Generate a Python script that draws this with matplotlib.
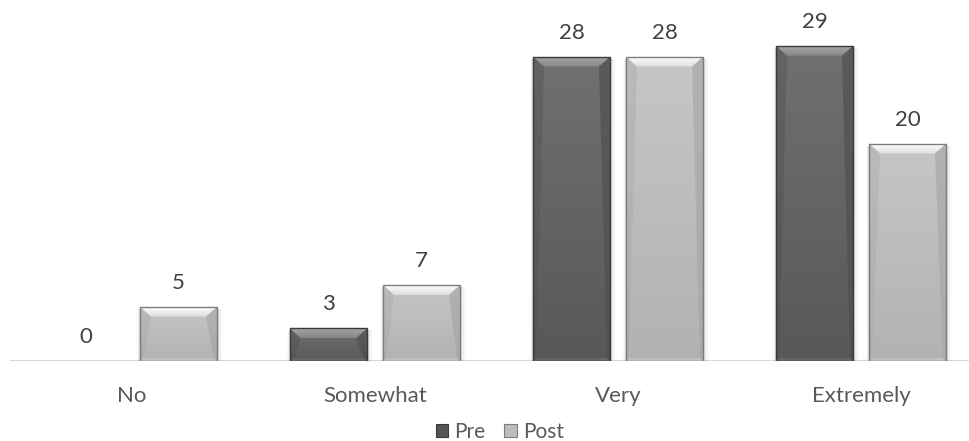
import numpy as np
import matplotlib
matplotlib.use("Agg")
import matplotlib.pyplot as plt
from matplotlib.patches import Polygon, Rectangle
from matplotlib.colors import LinearSegmentedColormap

categories = ["No", "Somewhat", "Very", "Extremely"]
pre_values = [0, 3, 28, 29]
post_values = [5, 7, 28, 20]
series_names = ["Pre", "Post"]

plt.rcParams["font.family"] = ["Lato", "DejaVu Sans"]

fig = plt.figure(figsize=(9.69, 4.41), dpi=100)
W, H = 969, 441
ax_left, ax_right = 10, 969
ax_bottom_px, ax_top_px = 361, 0
ax = fig.add_axes([ax_left / W, 1 - ax_bottom_px / H,
                   (ax_right - ax_left) / W, (ax_bottom_px - ax_top_px) / H])

group_px = 243.0
xlim = ((ax_left - 132) / group_px, (ax_right - 132) / group_px)
ylim = (0, 33.2)
ax.set_xlim(*xlim)
ax.set_ylim(*ylim)

px_x = 1.0 / group_px
px_y = (ylim[1] - ylim[0]) / (ax_bottom_px - ax_top_px)

bar_w = 77 * px_x
offset = (77 + 16) / 2 * px_x
x = np.arange(len(categories))

styles = {
    "Pre": dict(top="#707070", bottom="#585858", edge="#3a3a3a",
                bevel_hi="#a6a6a6", bevel_lo="#858585",
                side="#4c4c4c", base="#6a6a6a", legend="#555555"),
    "Post": dict(top="#c6c6c6", bottom="#b2b2b2", edge="#7c7c7c",
                 bevel_hi="#ffffff", bevel_lo="#dcdcdc",
                 side="#a4a4a4", base="#c4c4c4", legend="#bdbdbd"),
}


def grad_fill(verts, c_lo, c_hi, y_lo, y_hi, x0, x1, z):
    cmap = LinearSegmentedColormap.from_list("g", [c_lo, c_hi])
    grad = np.linspace(0, 1, 64).reshape(-1, 1)
    im = ax.imshow(grad, cmap=cmap, extent=(x0, x1, y_lo, y_hi), origin="lower",
                   aspect="auto", zorder=z, interpolation="bilinear")
    clip = Polygon(verts, closed=True, facecolor="none", lw=0, zorder=z)
    ax.add_patch(clip)
    im.set_clip_path(clip)


def beveled_bar(xc, h, st):
    if h <= 0:
        return
    x0, x1 = xc - bar_w / 2, xc + bar_w / 2
    # soft shadow around the bar
    for i, a in enumerate([0.07, 0.04, 0.02]):
        d = (i + 1) * 2 * px_x
        ax.add_patch(Rectangle((x0 - d * 0.5, 0), bar_w + d * 1.5, h - 2 * px_y,
                               facecolor="#000000", alpha=a, lw=0, zorder=1))
    # body with vertical gradient
    grad_fill([(x0, 0), (x1, 0), (x1, h), (x0, h)], st["bottom"], st["top"],
              0, h, x0, x1, 2)
    bx = 11 * px_x
    by = min(10 * px_y, h * 0.35)
    sx = 3 * px_x
    sy = min(3 * px_y, h * 0.15)
    # side bevels
    ax.add_patch(Polygon([(x0, h), (x0 + bx, h - by), (x0 + sx, sy), (x0, 0)],
                         closed=True, facecolor=st["side"], lw=0, zorder=3, alpha=0.35))
    ax.add_patch(Polygon([(x1, h), (x1 - bx, h - by), (x1 - sx, sy), (x1, 0)],
                         closed=True, facecolor=st["side"], lw=0, zorder=3, alpha=0.6))
    # bottom bevel
    ax.add_patch(Polygon([(x0, 0), (x1, 0), (x1 - sx, sy), (x0 + sx, sy)],
                         closed=True, facecolor=st["base"], lw=0, zorder=3, alpha=0.8))
    # top bevel with its own gradient
    grad_fill([(x0, h), (x1, h), (x1 - bx, h - by), (x0 + bx, h - by)],
              st["bevel_lo"], st["bevel_hi"], h - by, h, x0, x1, 3)
    ax.add_patch(Rectangle((x0, 0), bar_w, h, facecolor="none",
                           edgecolor=st["edge"], lw=1.0, zorder=4))


for name, vals, sign in [("Pre", pre_values, -1), ("Post", post_values, 1)]:
    st = styles[name]
    for xi, v in zip(x, vals):
        xc = xi + sign * offset
        beveled_bar(xc, v, st)
        ax.text(xc, v + 24 * px_y, f"{v}", ha="center", va="center",
                fontsize=16, color="#404040", zorder=5)

ax.axhline(0, color="#d9d9d9", lw=1.5, zorder=0)

for s in ax.spines.values():
    s.set_visible(False)
ax.set_yticks([])
ax.set_xticks(x)
ax.set_xticklabels(categories, fontsize=16, color="#595959")
ax.tick_params(axis="x", length=0, pad=25)
for lbl in ax.get_xticklabels():
    lbl.set_va("center")

handles = [Rectangle((0, 0), 1, 1, facecolor=styles[n]["legend"],
                     edgecolor=styles[n]["edge"], lw=0.8) for n in series_names]
fig.legend(handles, series_names, loc="center", ncol=2, frameon=False,
           fontsize=15, labelcolor="#595959", handlelength=0.6, handleheight=0.6,
           handletextpad=0.3, columnspacing=0.9, bbox_to_anchor=(500 / W, 1 - 432 / H),
           borderpad=0, borderaxespad=0)

fig.savefig("out.png", dpi=100)
